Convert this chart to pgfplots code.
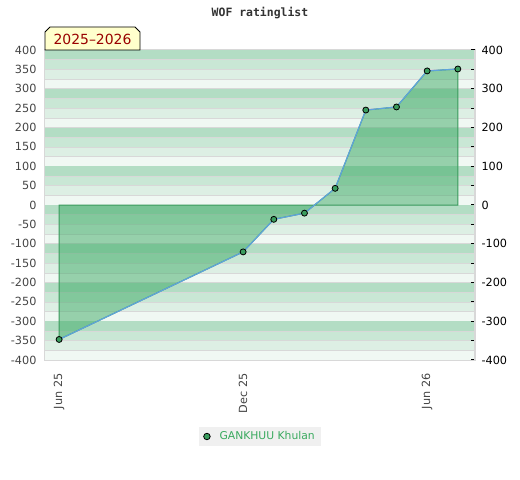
\documentclass[border=0pt]{standalone}
\usepackage{pgfplots}
\pgfplotsset{compat=1.18}
\usepackage{fontspec}
\setmainfont{DejaVu Sans}
\newfontfamily\monofont{DejaVu Sans Mono}
\definecolor{bandA}{HTML}{B3DDC4}
\definecolor{bandB}{HTML}{C9E7D5}
\definecolor{bandC}{HTML}{DDEFE4}
\definecolor{bandD}{HTML}{F0F8F3}
\definecolor{gridc}{HTML}{D8D8D8}
\definecolor{areaf}{HTML}{3DAA65}
\definecolor{areal}{HTML}{3A9A5C}
\definecolor{linec}{HTML}{5FA3DC}
\definecolor{markc}{HTML}{3A9D5E}
\definecolor{leglabel}{HTML}{3AAA5F}
\definecolor{legbg}{HTML}{F0F0F0}
\definecolor{ticklab}{HTML}{444444}
\definecolor{boxfill}{HTML}{FFFFCC}
\definecolor{boxtext}{HTML}{990000}
\begin{document}
\begin{tikzpicture}
\path[use as bounding box] (0,0) rectangle (520bp,480bp);
\begin{axis}[
  at={(45bp,120bp)}, anchor=south west,
  scale only axis, width=430bp, height=310bp,
  xmin=-0.46, xmax=13.56, ymin=-400, ymax=400,
  axis line style={draw=gridc, line width=1.2bp},
  xtick={0,6,12}, xticklabels={Jun 25,Dec 25,Jun 26},
  ytick={-400,-350,...,400},
  major tick length=0pt,
  tick label style={font=\fontsize{11.3}{13}\selectfont, text=ticklab},
  yticklabel style={xshift=-5bp},
  xticklabel style={rotate=90, anchor=east, xshift=-10bp},
  /pgf/number format/assume math mode=true,
  legend style={at={(0.5,-0.2468)}, anchor=center, fill=legbg, draw=none,
    font=\fontsize{10.8}{12}\selectfont, inner xsep=4bp, inner ysep=2.5bp},
  legend image code/.code={\node[circle, fill=markc, draw=black, line width=0.8bp, inner sep=0pt, minimum size=6.5bp] at (0.05cm,0) {};},
  legend style={/tikz/every even column/.append style={column sep=0pt}},
]
\pgfplotsinvokeforeach{400,300,200,100,0,-100,-200,-300}{
  \fill[bandA] (axis cs:-1,#1) rectangle (axis cs:15,#1-25);
  \fill[bandB] (axis cs:-1,#1-25) rectangle (axis cs:15,#1-50);
  \fill[bandC] (axis cs:-1,#1-50) rectangle (axis cs:15,#1-75);
  \fill[bandD] (axis cs:-1,#1-75) rectangle (axis cs:15,#1-100);
  \draw[gridc, line width=0.6bp] (axis cs:-1,#1-25) -- (axis cs:15,#1-25);
  \draw[gridc, line width=0.6bp] (axis cs:-1,#1-50) -- (axis cs:15,#1-50);
  \draw[gridc, line width=0.6bp] (axis cs:-1,#1-75) -- (axis cs:15,#1-75);
  \draw[gridc, line width=0.6bp] (axis cs:-1,#1-100) -- (axis cs:15,#1-100);
}
\addplot[forget plot, fill=areaf, fill opacity=0.5, draw=areal, line width=1bp] coordinates {
  (0,0) (0,-347) (6,-121) (7,-37) (8,-21) (9,43) (10,245) (11,253) (12,346) (13,351) (13,0)
} -- cycle;
\addplot[linec, line width=1.2bp, mark=*, mark size=3bp, mark options={fill=markc, draw=black, line width=0.8bp}] coordinates {
  (0,-347) (6,-121) (7,-37) (8,-21) (9,43) (10,245) (11,253) (12,346) (13,351)
};
\addlegendentry{\hspace{7bp}\textcolor{leglabel}{GANKHUU Khulan}\hspace{4bp}}
\end{axis}
\begin{axis}[
  at={(45bp,120bp)}, anchor=south west,
  scale only axis, width=430bp, height=310bp,
  xmin=-0.46, xmax=13.56, ymin=-400, ymax=400,
  hide x axis, axis y line*=right,
  y axis line style={draw=gridc, line width=1.2bp},
  ytick={-400,-300,...,400},
  minor ytick={-350,-250,...,350},
  tick align=inside,
  major tick length=4bp, minor tick length=4bp,
  every tick/.style={black, line width=1bp},
  every minor tick/.style={black, line width=1bp},
  yticklabel style={font=\fontsize{11.3}{13}\selectfont, text=black, xshift=3bp},
  /pgf/number format/assume math mode=true,
]
\end{axis}
\node[font=\monofont\bfseries\fontsize{11.5}{13}\selectfont, text=black!80] at (260bp,467bp) {WOF ratinglist};
\draw[fill=boxfill, line width=0.8bp] (45bp,430bp) -- (45bp,448bp) -- (50bp,453bp) -- (135bp,453bp) -- (140bp,448bp) -- (140bp,430bp) -- cycle;
\node[text=boxtext, font=\fontsize{14}{16}\selectfont] at (92.5bp,441bp) {2025–2026};
\end{tikzpicture}
\end{document}
